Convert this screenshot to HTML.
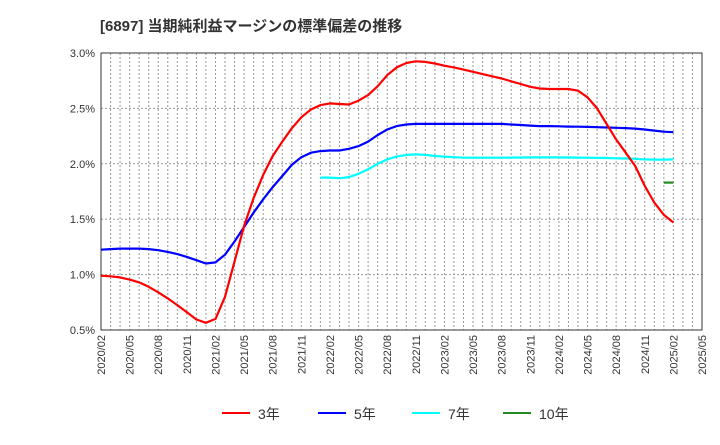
<!DOCTYPE html>
<html><head><meta charset="utf-8"><style>
body{margin:0;background:#fff;font-family:"Liberation Sans","Noto Sans CJK JP",sans-serif}
</style></head><body>
<svg width="720" height="440" xmlns="http://www.w3.org/2000/svg" id="svg" font-family="Liberation Sans, Noto Sans CJK JP, sans-serif">
<text x="100" y="31" font-size="15" font-weight="bold" fill="#333">[6897]  当期純利益マージンの標準偏差の推移</text>
<g id="grid"></g><g id="axes"></g><g id="series"></g><g id="legend"></g>
</svg>
<script>
const xLabels=["2020/02","2020/05","2020/08","2020/11","2021/02","2021/05","2021/08","2021/11","2022/02","2022/05","2022/08","2022/11","2023/02","2023/05","2023/08","2023/11","2024/02","2024/05","2024/08","2024/11","2025/02","2025/05"];
const yTicks=[0.5,1.0,1.5,2.0,2.5,3.0];
const s3=[0.99,0.985,0.975,0.955,0.93,0.89,0.84,0.785,0.725,0.66,0.595,0.565,0.6,0.8,1.12,1.44,1.69,1.9,2.07,2.2,2.32,2.42,2.49,2.53,2.545,2.54,2.535,2.57,2.62,2.7,2.8,2.87,2.91,2.925,2.92,2.905,2.885,2.87,2.85,2.83,2.81,2.79,2.77,2.745,2.72,2.695,2.68,2.675,2.675,2.675,2.66,2.6,2.5,2.36,2.22,2.1,1.98,1.8,1.65,1.54,1.47];
const s5=[1.225,1.23,1.235,1.235,1.235,1.23,1.22,1.205,1.185,1.16,1.13,1.1,1.11,1.18,1.3,1.43,1.56,1.68,1.79,1.89,1.99,2.06,2.1,2.115,2.12,2.12,2.135,2.16,2.2,2.26,2.31,2.34,2.355,2.36,2.36,2.36,2.36,2.36,2.36,2.36,2.36,2.36,2.36,2.355,2.35,2.345,2.34,2.34,2.338,2.336,2.335,2.333,2.33,2.328,2.325,2.322,2.318,2.31,2.3,2.29,2.285];
const s7=[null,null,null,null,null,null,null,null,null,null,null,null,null,null,null,null,null,null,null,null,null,null,null,1.875,1.875,1.87,1.88,1.91,1.95,2.0,2.04,2.065,2.08,2.085,2.08,2.07,2.065,2.06,2.055,2.055,2.055,2.055,2.055,2.056,2.057,2.058,2.058,2.058,2.058,2.057,2.056,2.055,2.053,2.052,2.05,2.048,2.045,2.04,2.038,2.038,2.04];
const s10=[null,null,null,null,null,null,null,null,null,null,null,null,null,null,null,null,null,null,null,null,null,null,null,null,null,null,null,null,null,null,null,null,null,null,null,null,null,null,null,null,null,null,null,null,null,null,null,null,null,null,null,null,null,null,null,null,null,null,null,1.83,1.83];
const L=101,R=702,T=53,B=330,months=63;
const xs=i=>L+(R-L)*i/months;
const ys=v=>B-(v-0.5)/2.5*(B-T);
const NS="http://www.w3.org/2000/svg";
function mk(tag,attrs,parent){const e=document.createElementNS(NS,tag);for(const k in attrs)e.setAttribute(k,attrs[k]);parent.appendChild(e);return e;}
const grid=document.getElementById('grid'),axes=document.getElementById('axes'),ser=document.getElementById('series'),leg=document.getElementById('legend');
for(let m=1;m<months;m++){const l=mk('line',{x1:xs(m),x2:xs(m),y1:T,y2:B,stroke:'#999','stroke-dasharray':'2,2','stroke-width':1},grid);

}
yTicks.forEach(v=>{const l=mk('line',{x1:L,x2:R,y1:ys(v),y2:ys(v),stroke:'#999','stroke-dasharray':'2,2','stroke-width':1},grid);


const t=mk('text',{x:L-6,y:ys(v)+4,'text-anchor':'end','font-size':11,fill:'#333'},axes);t.textContent=v.toFixed(1)+'%';

});
const fr=mk('rect',{x:L,y:T,width:R-L,height:B-T,fill:'none',stroke:'#333','stroke-width':1},axes);


xLabels.forEach((lb,i)=>{const x=xs(i*3);const t=mk('text',{x:0,y:0,transform:`translate(${x+4},${B+5}) rotate(-90)`,'text-anchor':'end','font-size':11,fill:'#333'},axes);t.textContent=lb;

});
function line(arr,color,name){let d='';let pen=false;arr.forEach((v,i)=>{if(v==null){pen=false;return;}d+=(pen?'L':'M')+xs(i).toFixed(1)+','+ys(v).toFixed(1);pen=true;});
const p=mk('path',{d:d,fill:'none',stroke:color,'stroke-width':2.2,'stroke-linejoin':'round'},ser);

}
line(s7,'#00ffff','series-7y');line(s5,'#0000ff','series-5y');line(s3,'#ff0000','series-3y');line(s10,'#228b22','series-10y');
[[222,'#ff0000','3年'],[318,'#0000ff','5年'],[412,'#00ffff','7年'],[503,'#228b22','10年']].forEach(([x,c,t])=>{
const g=mk('g',{},leg);


mk('line',{x1:x,x2:x+28,y1:413,y2:413,stroke:c,'stroke-width':2},g);
const tx=mk('text',{x:x+36,y:419,'font-size':14,fill:'#333'},g);tx.textContent=t;});
</script>
</body></html>
